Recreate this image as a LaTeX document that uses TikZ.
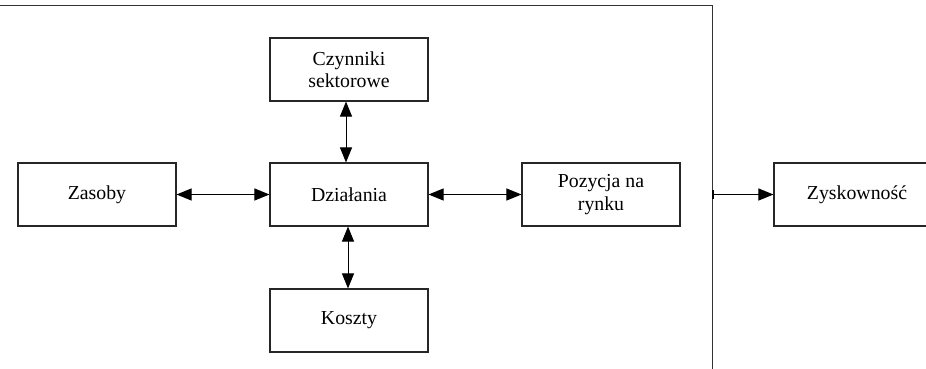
\documentclass[tikz,border=0pt]{standalone}
\usepackage{fontspec}
\setmainfont{Liberation Serif}
\usetikzlibrary{arrows.meta}
\begin{document}
\begin{tikzpicture}[x=1pt,y=-1pt,
  box/.style={draw=black!85,line width=1.1pt,minimum width=158pt,minimum height=63pt,
    inner sep=0pt,align=center,font=\fontsize{19.8}{22.5}\selectfont},
  conn/.style={line width=1pt,{Triangle[length=15pt,width=12pt]}-{Triangle[length=15pt,width=12pt]}},
  oneway/.style={line width=1pt,{Bar[width=9pt,line width=1.5pt]}-{Triangle[length=15pt,width=12pt]}},
  frame/.style={draw=black!80,line width=1pt}]
\useasboundingbox (0,0) rectangle (926,369);
\clip (0,0) rectangle (926,369);
\node[box] (zas) at (97,194.5) {Zasoby};
\node[box] (czy) at (349,69.5) {Czynniki\\sektorowe};
\node[box] (dzi) at (349,194.5) {Działania};
\node[box] (kos) at (349,320.5) {Koszty};
\node[box] (poz) at (601,194.5) {Pozycja na\\rynku};
\node[box,minimum width=166pt] (zys) at (857,194.5) {Zyskowność};
\coordinate (ftl) at (0,6);
\coordinate (ftr) at (712,6);
\coordinate (fbr) at (712,370);
\coordinate (fmid) at (712,194.5);
\draw[frame] (ftl) -- (ftr) -- (fbr);
\draw[conn] (zas.east) -- (dzi.west);
\draw[conn] (dzi.east) -- (poz.west);
\draw[conn] ([xshift=-3pt]czy.south) -- ([xshift=-3pt]dzi.north);
\draw[conn] ([xshift=-1pt]dzi.south) -- ([xshift=-1pt]kos.north);
\draw[oneway] (fmid) -- (zys.west);
\end{tikzpicture}
\end{document}
